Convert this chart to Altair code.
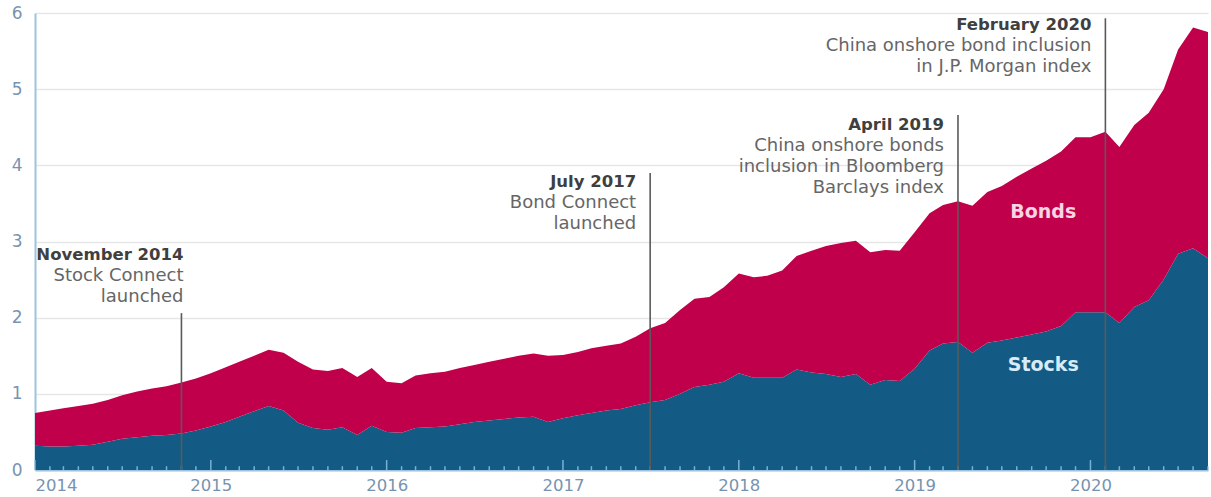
import altair as alt
import pandas as pd

# ---------------- data ----------------
start_month = "2014-01-01"
n_months = 81  # Jan 2014 .. Sep 2020

stocks = [0.32, 0.31, 0.31, 0.32, 0.33, 0.37, 0.41, 0.43, 0.45, 0.46, 0.48, 0.52,
          0.57, 0.63, 0.70, 0.77, 0.84, 0.78, 0.62, 0.55, 0.53, 0.56, 0.46, 0.58,
          0.50, 0.49, 0.55, 0.56, 0.57, 0.60, 0.63, 0.65, 0.67, 0.69, 0.70, 0.63,
          0.68, 0.72, 0.75, 0.78, 0.80, 0.85, 0.89, 0.92, 1.00, 1.09, 1.12, 1.16,
          1.27, 1.21, 1.21, 1.21, 1.32, 1.28, 1.26, 1.22, 1.26, 1.12, 1.18, 1.17,
          1.33, 1.57, 1.66, 1.68, 1.54, 1.67, 1.70, 1.74, 1.78, 1.82, 1.89, 2.07,
          2.07, 2.07, 1.93, 2.14, 2.23, 2.50, 2.84, 2.91, 2.78]

total = [0.75, 0.78, 0.81, 0.84, 0.87, 0.92, 0.98, 1.03, 1.07, 1.10, 1.15, 1.20,
         1.27, 1.35, 1.42, 1.50, 1.58, 1.54, 1.42, 1.32, 1.30, 1.34, 1.22, 1.34,
         1.16, 1.14, 1.24, 1.27, 1.29, 1.34, 1.38, 1.42, 1.46, 1.50, 1.53, 1.50,
         1.51, 1.55, 1.60, 1.63, 1.66, 1.75, 1.86, 1.93, 2.10, 2.25, 2.27, 2.40,
         2.58, 2.53, 2.55, 2.62, 2.81, 2.88, 2.94, 2.98, 3.01, 2.86, 2.89, 2.88,
         3.12, 3.37, 3.48, 3.53, 3.47, 3.65, 3.73, 3.85, 3.96, 4.06, 4.18, 4.37,
         4.37, 4.44, 4.24, 4.53, 4.69, 5.00, 5.52, 5.81, 5.75]

ann_dates = ["2014-11-01", "2017-07-01", "2019-04-01", "2020-02-01"]
ann_line_top = [2.06, 3.90, 4.66, 5.93]
ann_title_y = [2.82, 3.78, 4.53, 5.84]
ann_titles = ["November 2014", "July 2017", "April 2019", "February 2020"]
ann_bodies = [
    "Stock Connect\nlaunched",
    "Bond Connect\nlaunched",
    "China onshore bonds\ninclusion in Bloomberg\nBarclays index",
    "China onshore bond inclusion\nin J.P. Morgan index",
]

series_labels = ["Bonds", "Stocks"]
series_label_date = ["2019-09-25", "2019-09-25"]
series_label_y = [3.39, 1.38]

y_ticks = [0, 1, 2, 3, 4, 5, 6]

# ---------------- styles ----------------
RED = "#C0004B"
BLUE = "#135B84"
AXIS_BLUE = "#9EC3DE"
LABEL_COLOR = "#7893B0"
FONT = "DejaVu Sans"
ann_dx = [2, -14, -14, -14]

dates = pd.date_range(start_month, periods=n_months, freq="MS")
df = pd.DataFrame({"date": dates, "stocks": stocks, "total": total})
df["is_year"] = df["date"].dt.month == 1
df["tick_top"] = [0.13 if y else 0.05 for y in df["is_year"]]
df["zero"] = 0.0

x_scale = alt.Scale(domain=[pd.Timestamp("2014-01-01").isoformat(),
                            pd.Timestamp("2020-09-01").isoformat()])
y_scale = alt.Scale(domain=[0, 6], nice=False)

x_enc = alt.X("date:T", scale=x_scale,
              axis=alt.Axis(format="%Y", tickCount={"interval": "year", "step": 1},
                            title=None, grid=False, ticks=False,
                            labelFontSize=16.5, labelColor=LABEL_COLOR, labelFont=FONT,
                            labelPadding=7, labelFlush=True, labelOverlap=False,
                            domainColor=AXIS_BLUE, domainWidth=2))
y_enc_axis = alt.Axis(values=y_ticks, title=None, ticks=False, format="d",
                      labelFontSize=17, labelColor=LABEL_COLOR, labelFont=FONT,
                      labelPadding=13, gridColor="#E6E6E6", gridWidth=1.5,
                      domainColor=AXIS_BLUE, domainWidth=2)

base = alt.Chart(df)

stocks_area = base.mark_area(color=BLUE).encode(
    x=x_enc,
    y=alt.Y("stocks:Q", scale=y_scale, axis=y_enc_axis),
)
bonds_area = base.mark_area(color=RED).encode(
    x=alt.X("date:T", scale=x_scale),
    y=alt.Y("stocks:Q", scale=y_scale),
    y2="total:Q",
)

ticks = base.mark_rule(color="#8CC0E4", strokeWidth=1.5, opacity=0.85).encode(
    x=alt.X("date:T", scale=x_scale),
    y=alt.Y("zero:Q", scale=y_scale),
    y2="tick_top:Q",
)

ann_df = pd.DataFrame({
    "date": pd.to_datetime(ann_dates),
    "top": ann_line_top,
    "title_y": ann_title_y,
    "title": ann_titles,
    "body": ann_bodies,
})
ann_df["zero"] = 0.0

ann_lines = alt.Chart(ann_df).mark_rule(color="#5A5A5A", strokeWidth=1.6).encode(
    x=alt.X("date:T", scale=x_scale),
    y=alt.Y("zero:Q", scale=y_scale),
    y2="top:Q",
)

text_layers = []
for i in range(len(ann_titles)):
    sub = ann_df.iloc[[i]]
    text_layers.append(
        alt.Chart(sub).mark_text(align="right", baseline="middle", dx=ann_dx[i],
                                 font=FONT, fontSize=16.5, fontWeight="bold",
                                 color="#3F3F3F").encode(
            x=alt.X("date:T", scale=x_scale),
            y=alt.Y("title_y:Q", scale=y_scale),
            text="title:N",
        )
    )
    text_layers.append(
        alt.Chart(sub).mark_text(align="right", baseline="top", dx=ann_dx[i], dy=12,
                                 lineBreak="\n", lineHeight=21,
                                 font=FONT, fontSize=18, color="#666666").encode(
            x=alt.X("date:T", scale=x_scale),
            y=alt.Y("title_y:Q", scale=y_scale),
            text="body:N",
        )
    )

lab_df = pd.DataFrame({
    "date": pd.to_datetime(series_label_date),
    "y": series_label_y,
    "label": series_labels,
    "col": ["#F7D5E2", "#D8ECF8"],
})
series_text = alt.Chart(lab_df).mark_text(
    align="center", baseline="middle", font=FONT, fontSize=19, fontWeight="bold"
).encode(
    x=alt.X("date:T", scale=x_scale),
    y=alt.Y("y:Q", scale=y_scale),
    text="label:N",
    color=alt.Color("col:N", scale=None),
)

chart = alt.layer(
    stocks_area, bonds_area, ticks, ann_lines, *text_layers, series_text
).properties(
    width=1173,
    height=457,
    padding={"left": 35, "top": 13, "right": 3, "bottom": 27},
    autosize=alt.AutoSizeParams(type="none"),
    background="white",
).configure_view(stroke=None)

chart.save("out.html", embed_options={"renderer": "svg", "actions": False})
